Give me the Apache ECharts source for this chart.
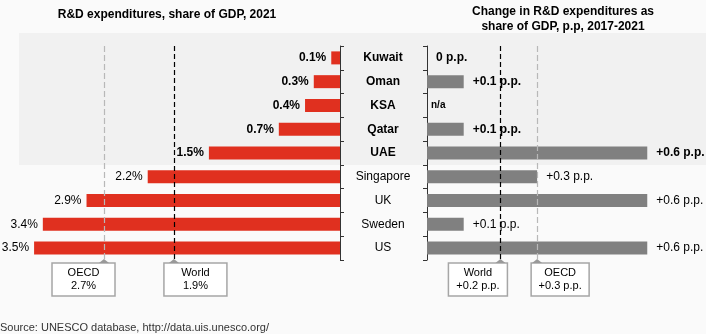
<!DOCTYPE html>
<html>
<head>
<meta charset="utf-8">
<script src="https://cdn.jsdelivr.net/npm/echarts@6/dist/echarts.min.js"></script>
<style>
  html, body { margin: 0; padding: 0; background: #fafafa; }
  #chart { width: 706px; height: 334px; }
</style>
</head>
<body>
<div id="chart"></div>
<script>
// Countries, top to bottom; the first five are GCC members and get bold labels
const countries = ['Kuwait', 'Oman', 'KSA', 'Qatar', 'UAE', 'Singapore', 'UK', 'Sweden', 'US'];
const gccCountries = ['Kuwait', 'Oman', 'KSA', 'Qatar', 'UAE'];

// R&D expenditures, % of GDP, 2021
const rdShare2021 = [0.1, 0.3, 0.4, 0.7, 1.5, 2.2, 2.9, 3.4, 3.5];
// Change in R&D expenditures as share of GDP, p.p., 2017-2021 (null = not available)
const rdChange = [0, 0.1, null, 0.1, 0.6, 0.3, 0.6, 0.1, 0.6];

// Benchmarks
const shareBenchNames = ['OECD', 'World'];
const shareBenchValues = [2.7, 1.9];
const changeBenchNames = ['World', 'OECD'];
const changeBenchValues = [0.2, 0.3];

const FONT = '"Liberation Sans", Arial, sans-serif';
const RED = '#e0301f';
const GREY_BAR = '#808080';
const GRID_TOP = 46, GRID_BOTTOM = 74;
const AXIS_X = 340, RIGHT_AXIS_X = 427;

const isGcc = c => gccCountries.indexOf(c) >= 0;
const fmtChange = v => (v === 0 ? '0 p.p.' : '+' + v + ' p.p.');

const chart = echarts.init(document.getElementById('chart'), null, { renderer: 'canvas' });

const shareData = rdShare2021.map((v, i) => ({
  value: v,
  label: { fontWeight: isGcc(countries[i]) ? 'bold' : 'normal' }
}));
const changeData = rdChange.map((v, i) => (v === null ? '-' : {
  value: v,
  label: { fontWeight: isGcc(countries[i]) ? 'bold' : 'normal' }
}));

const benchLine = (name, value, color, dash) => ({
  name: name, xAxis: value,
  lineStyle: { color: color, type: dash, width: 1.2 }
});

// Both category axes: thin dark line, short ticks pointing into the label column
const axisCommon = {
  axisLine: { show: true, lineStyle: { color: '#333', width: 1 } },
  axisTick: { show: true, inside: false, interval: 0, length: 4, lineStyle: { color: '#333', width: 1 } },
  splitLine: { show: false }
};

chart.setOption({
  animation: false,
  backgroundColor: '#fafafa',
  textStyle: { fontFamily: FONT },
  grid: [
    { left: 0, right: 706 - AXIS_X, top: GRID_TOP, bottom: GRID_BOTTOM },
    { left: RIGHT_AXIS_X, right: 0, top: GRID_TOP, bottom: GRID_BOTTOM }
  ],
  xAxis: [
    { gridIndex: 0, type: 'value', min: 0, max: 3.89, inverse: true, show: false },
    { gridIndex: 1, type: 'value', min: 0, max: 0.76, show: false }
  ],
  yAxis: [
    Object.assign({
      gridIndex: 0, type: 'category', data: countries, inverse: true, position: 'right',
      axisLabel: {
        margin: 43, align: 'center', color: '#000', fontSize: 12, fontFamily: FONT,
        formatter: c => (isGcc(c) ? '{b|' + c + '}' : '{n|' + c + '}'),
        rich: {
          b: { fontWeight: 'bold', fontSize: 12, fontFamily: FONT, color: '#000' },
          n: { fontWeight: 'normal', fontSize: 12, fontFamily: FONT, color: '#000' }
        }
      }
    }, axisCommon),
    Object.assign({
      gridIndex: 1, type: 'category', data: countries, inverse: true, position: 'left',
      axisLabel: { show: false }
    }, axisCommon)
  ],
  series: [
    {
      type: 'bar', xAxisIndex: 0, yAxisIndex: 0, data: shareData, barWidth: 13,
      itemStyle: { color: RED },
      label: {
        show: true, position: 'left', distance: 5, color: '#000', fontSize: 12, fontFamily: FONT,
        formatter: p => p.value + '%'
      },
      markLine: {
        silent: true, symbol: 'none', label: { show: false },
        data: [
          benchLine(shareBenchNames[0], shareBenchValues[0], '#b8b8b8', [6, 3]),
          benchLine(shareBenchNames[1], shareBenchValues[1], '#000', [5, 3])
        ]
      }
    },
    {
      type: 'bar', xAxisIndex: 1, yAxisIndex: 1, data: changeData, barWidth: 13,
      itemStyle: { color: GREY_BAR },
      label: {
        show: true, position: 'right', distance: 9, color: '#000', fontSize: 12, fontFamily: FONT,
        formatter: p => fmtChange(p.value)
      },
      markLine: {
        silent: true, symbol: 'none', label: { show: false },
        data: [
          benchLine(changeBenchNames[0], changeBenchValues[0], '#000', [5, 3]),
          benchLine(changeBenchNames[1], changeBenchValues[1], '#b8b8b8', [6, 3])
        ]
      }
    }
  ]
});

// Callout boxes under the benchmark lines: box offset from the pointer and its width
function callout(x, dx, w, line1, line2) {
  const top = 263, h = 33;
  return {
    type: 'group', children: [
      { type: 'rect', shape: { x: x + dx, y: top, width: w, height: h },
        style: { fill: '#ffffff', stroke: '#a6a6a6', lineWidth: 1.5 } },
      { type: 'polygon', shape: { points: [[x - 5, top], [x + 5, top], [x, top - 4]] },
        style: { fill: '#999999' } },
      { type: 'text', x: x + dx + w / 2, y: top + h / 2,
        style: { text: line1 + '\n' + line2, fontSize: 11, lineHeight: 13, fontFamily: FONT,
                 fill: '#000', align: 'center', verticalAlign: 'middle' } }
    ]
  };
}

const rowH = (334 - GRID_TOP - GRID_BOTTOM) / countries.length;
const px = (axis, v) => chart.convertToPixel({ xAxisIndex: axis }, v);
const ksaIdx = rdChange.indexOf(null);
const ksaY = chart.convertToPixel({ yAxisIndex: 1 }, countries[ksaIdx]);

chart.setOption({
  graphic: [
    // shaded band behind the GCC rows
    { type: 'rect', z: -1, shape: { x: 19, y: 33, width: 706 - 19, height: GRID_TOP + gccCountries.length * rowH - 33 },
      style: { fill: '#f1f1f1' } },
    { type: 'text', x: 167, y: 15,
      style: { text: 'R&D expenditures, share of GDP, 2021', fontSize: 12, fontWeight: 'bold', fontFamily: FONT,
               fill: '#000', align: 'center', verticalAlign: 'middle' } },
    { type: 'text', x: 563, y: 19,
      style: { text: 'Change in R&D expenditures as\nshare of GDP, p.p, 2017-2021', fontSize: 12, lineHeight: 15,
               fontWeight: 'bold', fontFamily: FONT, fill: '#000', align: 'center', verticalAlign: 'middle' } },
    { type: 'text', x: px(1, 0) + 4, y: ksaY,
      style: { text: 'n/a', fontSize: 10, fontWeight: 'bold', fontFamily: FONT, fill: '#000', verticalAlign: 'middle' } },
    callout(px(0, shareBenchValues[0]), -52, 63, shareBenchNames[0], shareBenchValues[0] + '%'),
    callout(px(0, shareBenchValues[1]), -10, 63, shareBenchNames[1], shareBenchValues[1] + '%'),
    callout(px(1, changeBenchValues[0]), -52, 59, changeBenchNames[0], fmtChange(changeBenchValues[0])),
    callout(px(1, changeBenchValues[1]), -6, 58, changeBenchNames[1], fmtChange(changeBenchValues[1])),
    { type: 'text', x: 0, y: 328,
      style: { text: 'Source: UNESCO database, http://data.uis.unesco.org/', fontSize: 11, fontFamily: FONT,
               fill: '#333', verticalAlign: 'middle' } }
  ]
});
</script>
</body>
</html>
